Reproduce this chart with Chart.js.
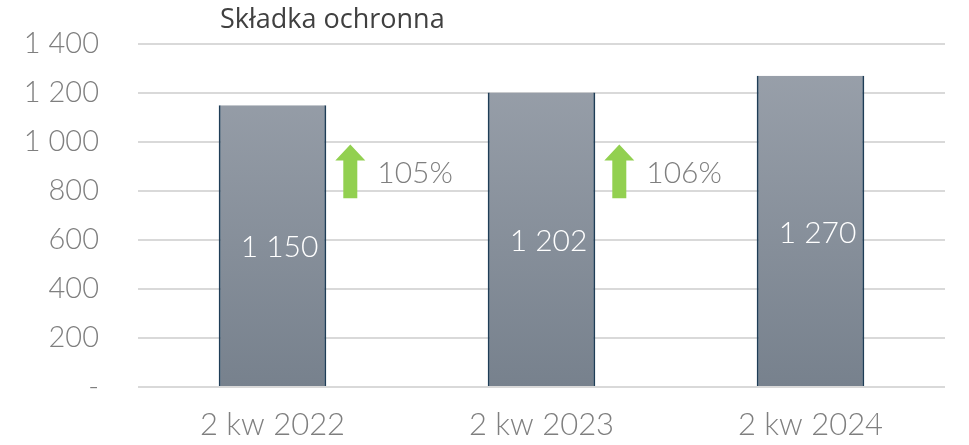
<!DOCTYPE html>
<html>
<head>
<meta charset="utf-8">
<script src="https://cdn.jsdelivr.net/npm/chart.js@4"></script>
<style>
  html, body { margin: 0; padding: 0; background: #fff; }
  #wrap { width: 969px; height: 445px; }
</style>
</head>
<body>
<div id="wrap"><canvas id="chart"></canvas></div>
<script>
const categories = ["2 kw 2022", "2 kw 2023", "2 kw 2024"];
const premiums = [1150, 1202, 1270];
const growthLabels = ["105%", "106%"];
const yTicks = [0, 200, 400, 600, 800, 1000, 1200, 1400];
const chartTitle = "Składka ochronna";

const FONT = "Lato, 'DejaVu Sans', sans-serif";

function fmt(v) {
  if (v === 0) return "-";
  return String(v).replace(/\B(?=(\d{3})+(?!\d))/g, " ");
}

// title, value labels, green arrows
const extras = {
  id: "extras",
  afterDatasetsDraw(chart) {
    const ctx = chart.ctx;
    const y = chart.scales.y;
    const meta = chart.getDatasetMeta(0);
    ctx.save();

    ctx.fillStyle = "#404040";
    ctx.font = "27px 'Open Sans', 'Noto Sans', sans-serif";
    ctx.textBaseline = "middle";
    ctx.textAlign = "left";
    ctx.fillText(chartTitle, 220, 20);

    ctx.fillStyle = "#ffffff";
    ctx.font = "300 30px " + FONT;
    ctx.textAlign = "center";
    meta.data.forEach((bar, i) => {
      const mid = (bar.y + bar.base) / 2;
      ctx.fillText(fmt(premiums[i]), bar.x + 7, mid + 2);
    });

    growthLabels.forEach((lbl, i) => {
      const bar = meta.data[i];
      const right = bar.x + bar.width / 2;
      const ax = right + 24;
      const top = y.getPixelForValue(990);
      const bottom = y.getPixelForValue(770);
      ctx.fillStyle = "#92d050";
      ctx.beginPath();
      ctx.moveTo(ax, top);
      ctx.lineTo(ax + 15, top + 16);
      ctx.lineTo(ax + 7, top + 16);
      ctx.lineTo(ax + 7, bottom);
      ctx.lineTo(ax - 7, bottom);
      ctx.lineTo(ax - 7, top + 16);
      ctx.lineTo(ax - 15, top + 16);
      ctx.closePath();
      ctx.fill();

      ctx.fillStyle = "#7f7f7f";
      ctx.font = "300 30px " + FONT;
      ctx.textAlign = "left";
      ctx.fillText(lbl, ax + 27, (top + bottom) / 2 + 2);
    });
    ctx.restore();
  }
};

new Chart(document.getElementById("chart"), {
  type: "bar",
  data: {
    labels: categories,
    datasets: [{
      data: premiums,
      backgroundColor(c) {
        const area = c.chart.chartArea;
        if (!area) return "#8a929c";
        const g = c.chart.ctx.createLinearGradient(0, area.top, 0, area.bottom);
        g.addColorStop(0, "#9ba2ac");
        g.addColorStop(1, "#77818d");
        return g;
      },
      borderColor: "#1f3d56",
      borderWidth: { left: 2, right: 2, top: 0, bottom: 0 },
      borderSkipped: false,
      barPercentage: 0.8,
      categoryPercentage: 0.5
    }]
  },
  options: {
    responsive: true,
    maintainAspectRatio: false,
    animation: false,
    layout: { padding: { top: 44, right: 24, bottom: 0, left: 0 } },
    plugins: {
      legend: { display: false },
      tooltip: { enabled: false }
    },
    scales: {
      x: {
        grid: { display: false },
        border: { display: false },
        ticks: { color: "#7f7f7f", font: { family: FONT, size: 31, weight: 300 }, padding: 11 },
        afterFit(s) { s.height = 58; }
      },
      y: {
        min: 0,
        max: 1400,
        afterBuildTicks(s) { s.ticks = yTicks.map(v => ({ value: v })); },
        grid: { color: "#d9d9d9", lineWidth: 2, drawTicks: false },
        border: { display: false },
        ticks: {
          color: "#7f7f7f",
          font: { family: FONT, size: 29, weight: 300 },
          padding: 39,
          callback: v => fmt(v)
        },
        afterFit(s) {
          s.width = 138;
          s.paddingTop = 0;
          s.paddingBottom = 0;
        }
      }
    }
  },
  plugins: [extras]
});
</script>
</body>
</html>
